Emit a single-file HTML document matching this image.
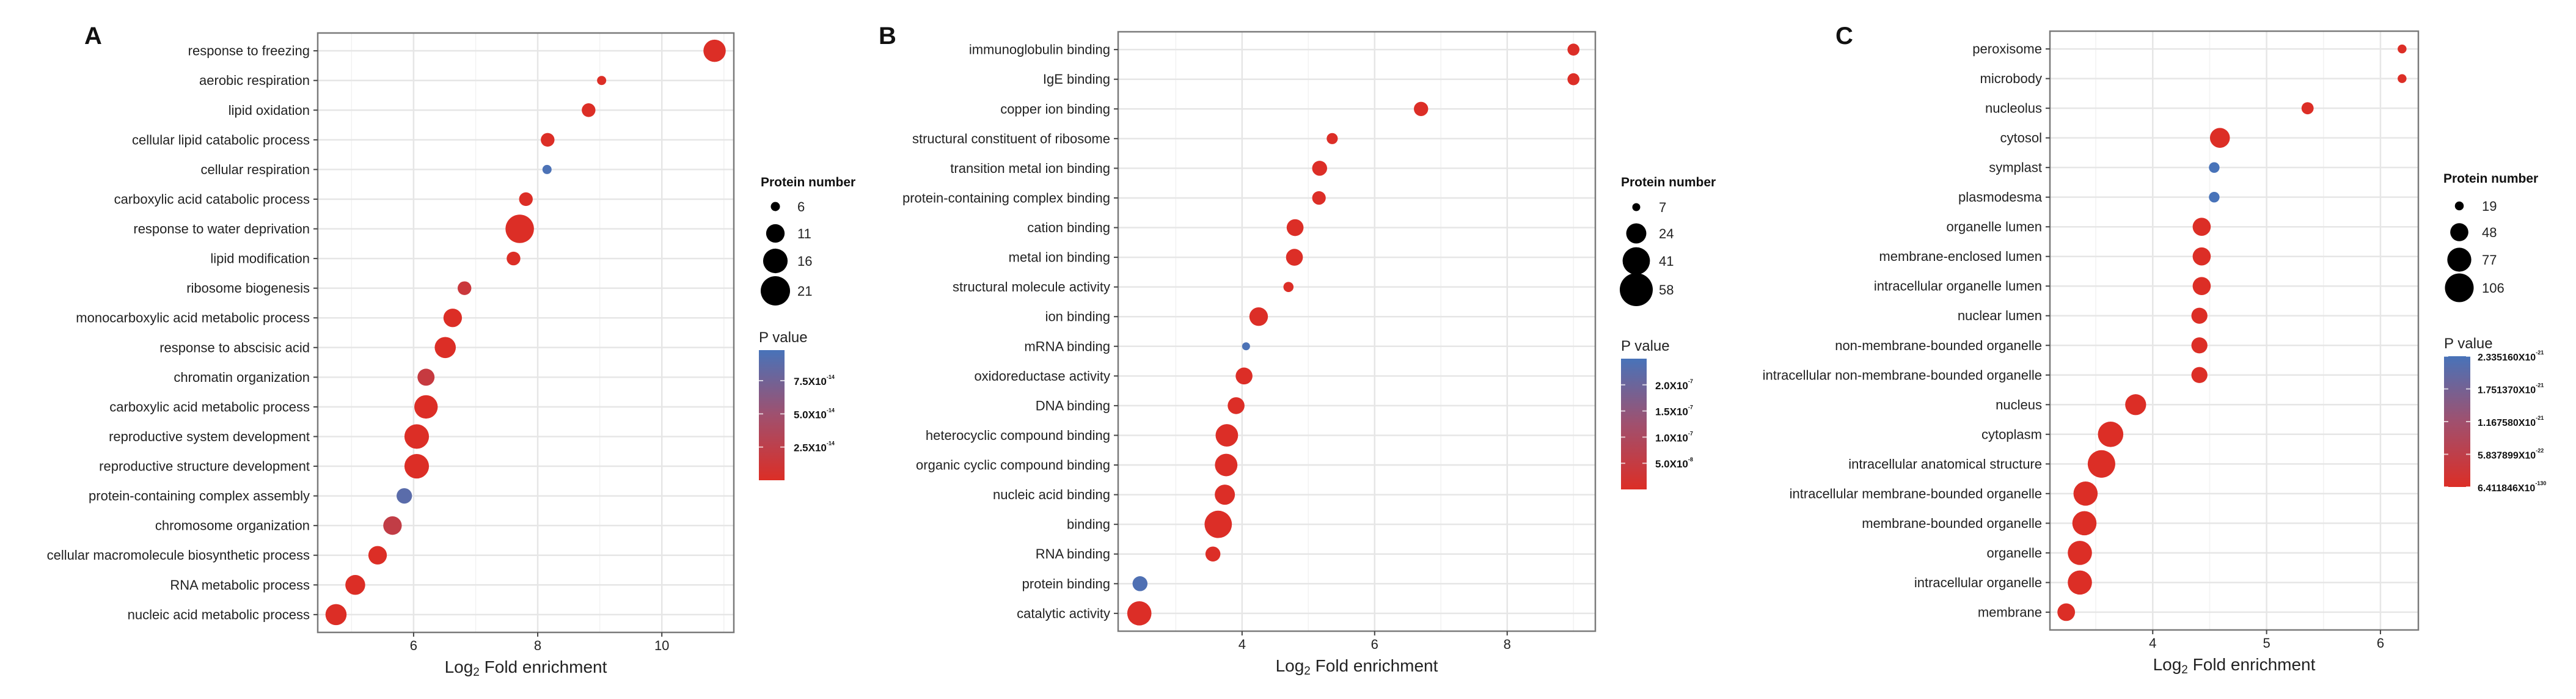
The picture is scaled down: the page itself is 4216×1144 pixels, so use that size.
<!DOCTYPE html>
<html><head><meta charset="utf-8">
<style>
html,body{margin:0;padding:0;background:#fff;}
svg{display:block;font-family:"Liberation Sans",sans-serif;}
</style></head>
<body>
<svg id="fig" width="4216" height="1144" viewBox="0 0 4216 1144" xmlns="http://www.w3.org/2000/svg">
<defs>
<linearGradient id="pgrad" x1="0" y1="1" x2="0" y2="0">
<stop offset="0" stop-color="rgb(220,46,38)"/>
<stop offset="0.5" stop-color="rgb(160,80,110)"/>
<stop offset="1" stop-color="rgb(72,115,185)"/>
</linearGradient>
</defs>
</svg>
<script>
// ---------- Panel A data ----------
const aTerms=["response to freezing","aerobic respiration","lipid oxidation","cellular lipid catabolic process","cellular respiration","carboxylic acid catabolic process","response to water deprivation","lipid modification","ribosome biogenesis","monocarboxylic acid metabolic process","response to abscisic acid","chromatin organization","carboxylic acid metabolic process","reproductive system development","reproductive structure development","protein-containing complex assembly","chromosome organization","cellular macromolecule biosynthetic process","RNA metabolic process","nucleic acid metabolic process"];
const aFold=[10.85,9.03,8.82,8.16,8.15,7.81,7.71,7.61,6.82,6.63,6.51,6.2,6.2,6.05,6.05,5.85,5.66,5.42,5.06,4.75];
const aCount=[14,6,8,8,6,8,20,8,8,11,13,10,15,16,16,9,11,11,12,13];
const aPval=[1e-16,1e-16,1e-16,1e-16,9.6e-14,1e-16,1e-16,1e-16,1.5e-14,1e-16,1e-16,1.8e-14,1e-16,1e-16,1e-16,8.8e-14,2.2e-14,1e-16,1e-16,1e-16];
const aXTicks=[6,8,10];
const aSizeLegend=[6,11,16,21];
const aColorTicks=[7.5e-14,5.0e-14,2.5e-14];
const aColorTickLabels=[["7.5X10","-14"],["5.0X10","-14"],["2.5X10","-14"]];

// ---------- Panel B data ----------
const bTerms=["immunoglobulin binding","IgE binding","copper ion binding","structural constituent of ribosome","transition metal ion binding","protein-containing complex binding","cation binding","metal ion binding","structural molecule activity","ion binding","mRNA binding","oxidoreductase activity","DNA binding","heterocyclic compound binding","organic cyclic compound binding","nucleic acid binding","binding","RNA binding","protein binding","catalytic activity"];
const bFold=[9.0,9.0,6.7,5.36,5.17,5.16,4.8,4.79,4.7,4.25,4.06,4.03,3.91,3.77,3.76,3.74,3.64,3.56,2.46,2.45];
const bCount=[11,11,14,10,15,13,18,18,9,21,7,18,18,29,29,24,41,15,15,33];
const bPval=[1e-9,1e-9,1e-9,1e-9,1e-9,1e-9,1e-9,1e-9,1e-9,1e-9,2.45e-7,1e-9,1e-9,1e-9,1e-9,1e-9,1e-9,1e-9,2.4e-7,1e-9];
const bXTicks=[4,6,8];
const bSizeLegend=[7,24,41,58];
const bColorTicks=[2.0e-7,1.5e-7,1.0e-7,5.0e-8];
const bColorTickLabels=[["2.0X10","-7"],["1.5X10","-7"],["1.0X10","-7"],["5.0X10","-8"]];

// ---------- Panel C data ----------
const cTerms=["peroxisome","microbody","nucleolus","cytosol","symplast","plasmodesma","organelle lumen","membrane-enclosed lumen","intracellular organelle lumen","nuclear lumen","non-membrane-bounded organelle","intracellular non-membrane-bounded organelle","nucleus","cytoplasm","intracellular anatomical structure","intracellular membrane-bounded organelle","membrane-bounded organelle","organelle","intracellular organelle","membrane"];
const cFold=[6.19,6.19,5.36,4.59,4.54,4.54,4.43,4.43,4.43,4.41,4.41,4.41,3.85,3.63,3.55,3.41,3.4,3.36,3.36,3.24];
const cCount=[19,19,27,56,23,23,48,48,48,40,40,40,61,85,98,78,78,78,78,46];
const cPval=[1e-30,1e-30,1e-30,1e-30,2.335e-21,2.335e-21,1e-30,1e-30,1e-30,1e-30,1e-30,1e-30,1e-30,1e-30,1e-30,1e-30,1e-30,1e-30,1e-30,1e-30];
const cXTicks=[4,5,6];
const cSizeLegend=[19,48,77,106];
const cColorTicks=[2.33516e-21,1.75137e-21,1.16758e-21,5.837899e-22,0];
const cColorTickLabels=[["2.335160X10","-21"],["1.751370X10","-21"],["1.167580X10","-21"],["5.837899X10","-22"],["6.411846X10","-130"]];

const NS="http://www.w3.org/2000/svg";
const svg=document.getElementById('fig');
function mk(tag,attrs,parent){const e=document.createElementNS(NS,tag);for(const k in attrs)e.setAttribute(k,attrs[k]);(parent||svg).appendChild(e);return e;}

function colorFor(p,pmax){
  let t=Math.max(0,Math.min(1,p/pmax));
  const r0=[220,46,38],m=[160,80,110],b=[72,115,185];
  let c;
  if(t<0.5){const u=t/0.5;c=r0.map((v,i)=>Math.round(v+(m[i]-v)*u));}
  else{const u=(t-0.5)/0.5;c=m.map((v,i)=>Math.round(v+(b[i]-v)*u));}
  return `rgb(${c[0]},${c[1]},${c[2]})`;
}

function panel(cfg,terms,fold,count,pval,xticks,sizeLeg,cticks,clabels){
  const g=mk('g',{});
  
  
  const L=cfg.left,R=cfg.right,T=cfg.top,B=cfg.bottom;
  const xs=v=>L+(v-cfg.xmin)/(cfg.xmax-cfg.xmin)*(R-L);
  const n=terms.length;
  const step=(B-T)/(n-1+1.2);
  const ys=i=>T+(0.6+i)*step;
  const dia=c=>Math.sqrt(Math.max(10,cfg.d0*cfg.d0+cfg.k*(c-cfg.c0)));
  const lt=mk('text',{x:cfg.letterX,y:cfg.letterY,'font-size':40,'font-weight':'bold',fill:'#111'},g);
  lt.textContent=cfg.letter;
  
  
  mk('rect',{x:L,y:T,width:R-L,height:B-T,fill:'#fff'},g);
  for(let v=xticks[0]-(xticks[1]-xticks[0])/2; v<=cfg.xmax; v+=(xticks[1]-xticks[0])/2){
    if(v<cfg.xmin)continue;
    const major=xticks.some(t=>Math.abs(t-v)<1e-9);
    mk('line',{x1:xs(v),x2:xs(v),y1:T,y2:B,stroke:major?'#e6e6e6':'#f2f2f2','stroke-width':major?2.5:1.5},g);
  }
  for(let i=0;i<n;i++) mk('line',{x1:L,x2:R,y1:ys(i),y2:ys(i),stroke:'#e6e6e6','stroke-width':2.5},g);
  for(let i=0;i<n;i++){
    const c=mk('circle',{cx:xs(fold[i]),cy:ys(i),r:dia(count[i])/2,fill:colorFor(pval[i],cfg.pmax)},g);
    
    
  }
  mk('rect',{x:L,y:T,width:R-L,height:B-T,fill:'none',stroke:'#7a7a7a','stroke-width':2.5},g);
  for(let i=0;i<n;i++){
    mk('line',{x1:L-7,x2:L,y1:ys(i),y2:ys(i),stroke:'#444','stroke-width':2},g);
    const t=mk('text',{x:L-13,y:ys(i)+7.5,'text-anchor':'end','font-size':22,fill:'#222'},g);
    t.textContent=terms[i];
    
    
  }
  xticks.forEach(v=>{
    mk('line',{x1:xs(v),x2:xs(v),y1:B,y2:B+7,stroke:'#444','stroke-width':2},g);
    const t=mk('text',{x:xs(v),y:B+29,'text-anchor':'middle','font-size':22,fill:'#222'},g);
    t.textContent=String(v);
    
    
  });
  const at=mk('text',{x:(L+R)/2,y:B+66,'text-anchor':'middle','font-size':28,fill:'#222'},g);
  
  
  at.innerHTML='Log<tspan font-size="19" dy="5">2</tspan><tspan dy="-5"> Fold enrichment</tspan>';
  const lg=mk('g',{},g);
  
  
  const st=mk('text',{x:cfg.legX,y:cfg.legTitleY,'font-size':21,'font-weight':'bold',fill:'#111'},lg);
  st.textContent='Protein number';
  sizeLeg.forEach((v,i)=>{
    const cy=cfg.legYs[i];
    const c=mk('circle',{cx:cfg.legCircX,cy:cy,r:dia(v)/2,fill:'#000'},lg);
    
    
    const t=mk('text',{x:cfg.legLabX,y:cy+8,'font-size':22,fill:'#222'},lg);
    t.textContent=String(v);
  });
  const cg=mk('g',{},g);
  
  
  const pt=mk('text',{x:cfg.barX,y:cfg.pTitleY,'font-size':24,fill:'#222'},cg);
  pt.textContent='P value';
  mk('rect',{x:cfg.barX,y:cfg.barTop,width:cfg.barW,height:cfg.barBot-cfg.barTop,fill:'url(#pgrad)'},cg);
  const cy=v=>cfg.barBot-(v/cfg.pmax)*(cfg.barBot-cfg.barTop);
  cticks.forEach((v,i)=>{
    const y=cy(v);
    mk('line',{x1:cfg.barX,x2:cfg.barX+7,y1:y,y2:y,stroke:'#fff','stroke-width':2,opacity:0.7},cg);
    mk('line',{x1:cfg.barX+cfg.barW-7,x2:cfg.barX+cfg.barW,y1:y,y2:y,stroke:'#fff','stroke-width':2,opacity:0.7},cg);
    const t=mk('text',{x:cfg.barLabX,y:y+7,'font-size':cfg.cFont,'font-weight':'bold',fill:'#111'},cg);
    t.innerHTML=clabels[i][0]+'<tspan font-size="9" dy="-10">'+clabels[i][1]+'</tspan>';
  });
}

panel({name:'panel-a',letter:'A',letterX:138,letterY:72,left:520,right:1201,top:54,bottom:1035,xmin:4.455,xmax:11.16,
  d0:15,c0:6,k:138.6,pmax:9.8e-14,legX:1245,legTitleY:305,legCircX:1269,legYs:[338,382,427,476],legLabX:1305,
  barX:1242,barW:42,barTop:573,barBot:786,pTitleY:560,barLabX:1299,cFont:17},
  aTerms,aFold,aCount,aPval,aXTicks,aSizeLegend,aColorTicks,aColorTickLabels);

panel({name:'panel-b',letter:'B',letterX:1438,letterY:72,left:1830,right:2611,top:52,bottom:1033,xmin:2.13,xmax:9.33,
  d0:13,c0:7,k:53.9,pmax:2.5e-7,legX:2653,legTitleY:305,legCircX:2678,legYs:[339,382,427,474],legLabX:2715,
  barX:2653,barW:42,barTop:587,barBot:801,pTitleY:574,barLabX:2709,cFont:17},
  bTerms,bFold,bCount,bPval,bXTicks,bSizeLegend,bColorTicks,bColorTickLabels);

panel({name:'panel-c',letter:'C',letterX:3004,letterY:72,left:3355,right:3958,top:51,bottom:1031,xmin:3.097,xmax:6.333,
  d0:14.5,c0:19,k:23,pmax:2.33516e-21,legX:3999,legTitleY:299,legCircX:4025,legYs:[337,380,425,471],legLabX:4062,
  barX:4000,barW:43,barTop:583,barBot:797,pTitleY:570,barLabX:4055,cFont:16},
  cTerms,cFold,cCount,cPval,cXTicks,cSizeLegend,cColorTicks,cColorTickLabels);
</script>
</body></html>
